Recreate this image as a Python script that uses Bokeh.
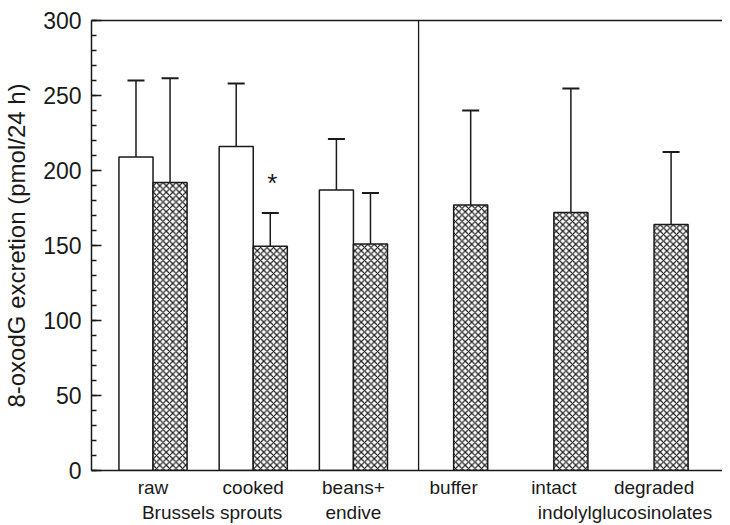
from bokeh.plotting import figure
from bokeh.models import (ColumnDataSource, Whisker, TeeHead, Span, LinearAxis,
                          FixedTicker, SingleIntervalTicker, Range1d)
from bokeh.core.properties import value
from bokeh.embed import file_html
from bokeh.resources import INLINE

# ---- data ----
categories = ["raw", "cooked", "beans+", "buffer", "intact", "degraded"]
group_pos = [1, 2, 3, 4, 5, 6]
white_pos = [1, 2, 3]
white_mean = [209, 216, 187]
white_err_top = [260, 258, 221]
hatched_mean = [192, 149.5, 151, 177, 172, 164]
hatched_err_top = [261.5, 171.7, 185, 240, 254.6, 212.4]
second_line = ["Brussels sprouts", "endive", "indolylglucosinolates"]
second_line_pos = [1.59, 3.0, 5.71]
y_label = "8-oxodG excretion (pmol/24 h)"

BW = 0.34
FONT = "Liberation Sans"
INK = "#1a1a1a"

p = figure(width=722, height=525, output_backend="svg", toolbar_location=None,
           x_range=Range1d(0.386, 6.683), y_range=Range1d(0, 300),
           min_border_left=86, min_border_right=0, min_border_top=20, min_border_bottom=53,
           x_axis_type=None, y_axis_location="left")
p.outline_line_color = None
p.grid.visible = False
p.background_fill_color = "white"

# y axis
ya = p.yaxis[0]
ya.ticker = SingleIntervalTicker(interval=50, num_minor_ticks=5)
ya.major_tick_in = 10
ya.major_tick_out = 0
ya.minor_tick_in = 5
ya.minor_tick_out = 0
ya.axis_line_width = 1.5
ya.axis_line_color = INK
ya.major_tick_line_color = INK
ya.minor_tick_line_color = INK
ya.major_tick_line_width = 1.3
ya.minor_tick_line_width = 1.3
ya.major_label_text_font = FONT
ya.major_label_text_font_size = "23px"
ya.major_label_text_color = INK
ya.major_label_standoff = 10
ya.axis_label = y_label
ya.axis_label_text_font = FONT
ya.axis_label_text_font_size = "24px"
ya.axis_label_text_font_style = "normal"
ya.axis_label_text_color = INK
ya.axis_label_standoff = 10

# top frame line
top_ax = LinearAxis(ticker=FixedTicker(ticks=[]), major_tick_line_color=None,
                    minor_tick_line_color=None, major_label_text_font_size="0px",
                    axis_line_width=1.5, axis_line_color=INK)
p.add_layout(top_ax, "above")

# bottom axis: both lines of category labels
label_map = {}
for g, c in zip(group_pos, categories):
    label_map[g] = c
for g, t in zip(second_line_pos, second_line):
    if g in label_map:
        label_map[g] = label_map[g] + "\n" + t
    else:
        label_map[g] = "\n" + t
tick_positions = sorted(label_map.keys())

ax1 = LinearAxis(ticker=FixedTicker(ticks=tick_positions),
                 major_label_overrides=label_map,
                 major_tick_line_color=None, minor_tick_line_color=None,
                 major_label_text_font=FONT, major_label_text_font_size="19px",
                 major_label_text_color=INK, major_label_standoff=0,
                 axis_line_width=1.5, axis_line_color=INK)
p.add_layout(ax1, "below")

# bars
wsrc = ColumnDataSource(dict(x=[v - BW / 2 for v in white_pos], top=white_mean,
                             up=white_err_top))
hsrc = ColumnDataSource(dict(x=[v + BW / 2 for v in group_pos], top=hatched_mean,
                             up=hatched_err_top))

for src in (wsrc, hsrc):
    w = Whisker(source=src, base="x", upper="up", lower="top",
                line_color=INK, line_width=1.5,
                upper_head=TeeHead(size=17, line_color=INK, line_width=2),
                lower_head=None)
    p.add_layout(w)

p.vbar(x="x", top="top", bottom=0, width=BW, source=wsrc,
       fill_color="white", line_color=INK, line_width=1.5)
p.vbar(x="x", top="top", bottom=0, width=BW, source=hsrc,
       fill_color="white", line_color=INK, line_width=1.5,
       hatch_pattern="x", hatch_color=INK, hatch_scale=6.5, hatch_weight=1.2)

# divider
p.add_layout(Span(location=3.65, dimension="height", line_color=INK, line_width=1.3))

# asterisk
p.text(x=[2.19], y=[192], text=["*"], text_font=value(FONT), text_font_size="26px",
       text_align="center", text_baseline="alphabetic", text_color=INK)

open("out.html", "w").write(file_html(p, INLINE))
